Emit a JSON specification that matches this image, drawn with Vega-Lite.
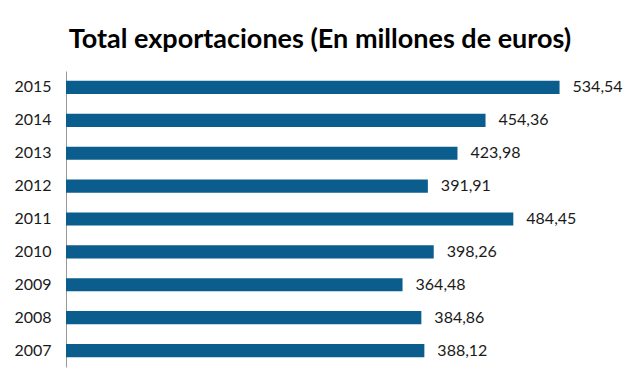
{
  "$schema": "https://vega.github.io/schema/vega-lite/v6.json",
  "autosize": {"type": "none"},
  "width": 554,
  "height": 296,
  "padding": {"left": 66, "top": 71, "right": 20, "bottom": 19},
  "background": "white",
  "title": {
    "text": "Total exportaciones (En millones de euros)",
    "font": "Lato",
    "fontSize": 27,
    "fontWeight": "bold",
    "color": "#000000",
    "anchor": "middle",
    "frame": "group",
    "dx": -23,
    "offset": 17
  },
  "data": {
    "values": [
      {"year": "2015", "value": 534.54},
      {"year": "2014", "value": 454.36},
      {"year": "2013", "value": 423.98},
      {"year": "2012", "value": 391.91},
      {"year": "2011", "value": 484.45},
      {"year": "2010", "value": 398.26},
      {"year": "2009", "value": 364.48},
      {"year": "2008", "value": 384.86},
      {"year": "2007", "value": 388.12}
    ]
  },
  "encoding": {
    "y": {
      "field": "year",
      "type": "nominal",
      "sort": "descending",
      "scale": {"paddingInner": 0.6, "paddingOuter": 0.3},
      "axis": {
        "title": null,
        "ticks": false,
        "labelPadding": 15,
        "labelFont": "Lato",
        "labelFontSize": 16,
        "labelColor": "#1a1a1a",
        "domainColor": "#999999",
        "domainWidth": 1
      }
    },
    "x": {
      "field": "value",
      "type": "quantitative",
      "scale": {"domain": [0, 600], "nice": false},
      "axis": null
    }
  },
  "layer": [
    {"mark": {"type": "bar", "color": "#0b5d8e"}},
    {
      "mark": {"type": "text", "align": "left", "baseline": "middle", "dx": 13, "font": "Lato", "fontSize": 16, "color": "#1a1a1a"},
      "encoding": {"text": {"field": "value", "type": "quantitative", "format": ".2f"}}
    }
  ],
  "config": {
    "view": {"stroke": null},
    "locale": {"number": {"decimal": ",", "thousands": ".", "grouping": [3], "currency": ["", " €"]}}
  }
}
